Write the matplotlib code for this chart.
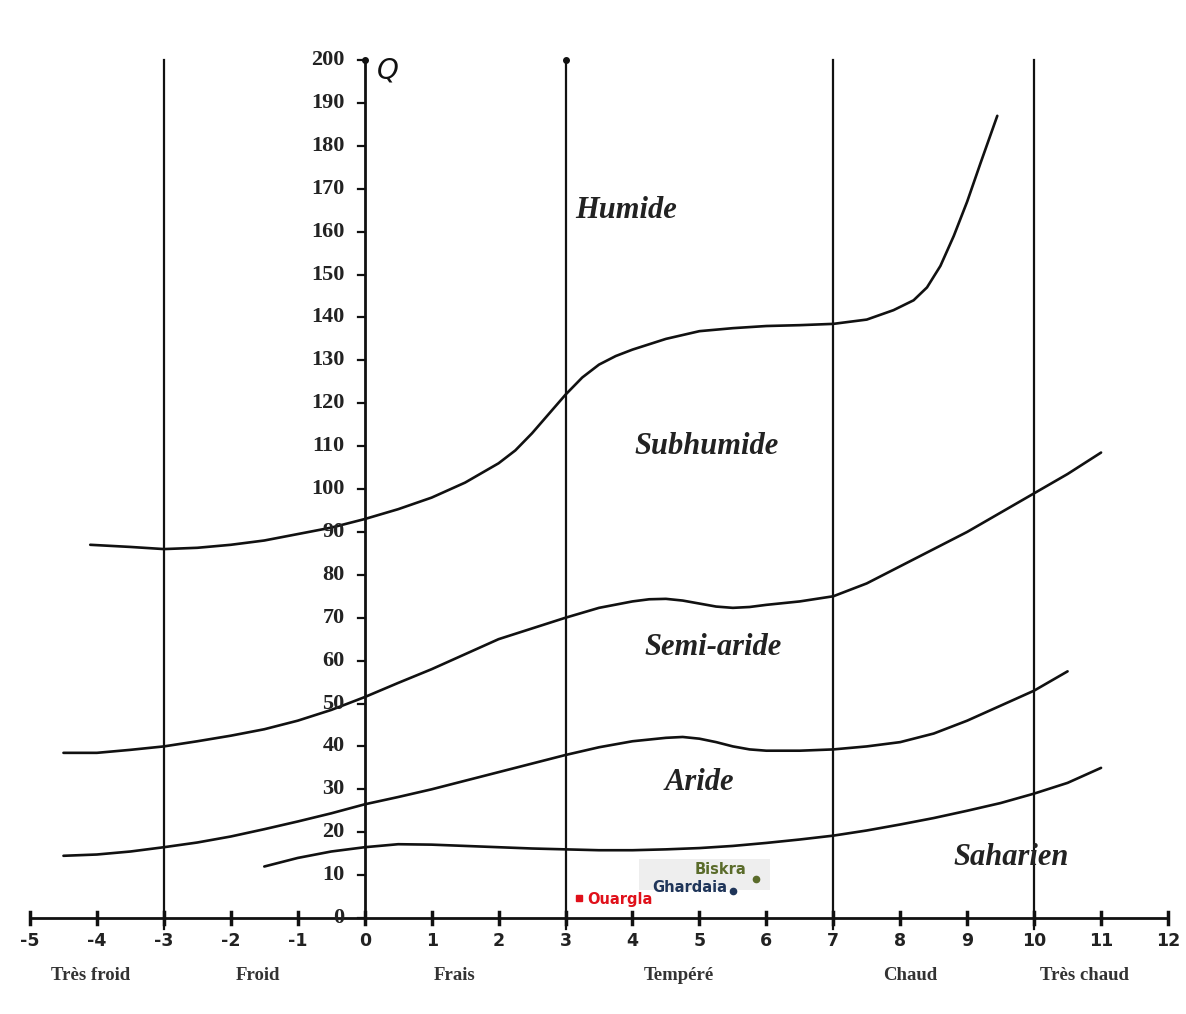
import matplotlib
matplotlib.use("Agg")
import matplotlib.pyplot as plt
from matplotlib.patches import Rectangle

# boundary curves of the Emberger climagram (m in degC, Q2)
hum_x = [-4.1, -3.5, -3, -2.5, -2, -1.5, -1, -0.5, 0, 0.5, 1, 1.5, 2, 2.25, 2.5, 2.75, 3, 3.25, 3.5, 3.75, 4, 4.5, 5, 5.5, 6, 6.5, 7, 7.5, 7.9, 8.2, 8.4, 8.6, 8.8, 9.0, 9.2, 9.45]
hum_q = [87, 86.5, 86, 86.3, 87, 88, 89.5, 91, 93, 95.3, 98, 101.5, 106, 109, 113, 117.5, 122, 126, 129, 131, 132.5, 135, 136.8, 137.5, 138, 138.2, 138.5, 139.5, 141.7, 144, 147, 152, 159, 167, 176, 187]

semi_x = [-4.5, -4, -3.5, -3, -2.5, -2, -1.5, -1, -0.5, 0, 0.5, 1, 1.5, 2, 2.5, 3, 3.5, 4, 4.25, 4.5, 4.75, 5, 5.25, 5.5, 5.75, 6, 6.5, 7, 7.5, 8, 8.5, 9, 9.5, 10, 10.5, 11]
semi_q = [38.5, 38.5, 39.2, 40, 41.2, 42.5, 44, 46, 48.5, 51.5, 54.8, 58, 61.5, 65, 67.5, 70, 72.3, 73.8, 74.3, 74.4, 74, 73.3, 72.6, 72.3, 72.5, 73, 73.8, 75, 78, 82, 86, 90, 94.5, 99, 103.5, 108.5]

arid_x = [-4.5, -4, -3.5, -3, -2.5, -2, -1.5, -1, -0.5, 0, 0.5, 1, 1.5, 2, 2.5, 3, 3.5, 4, 4.5, 4.75, 5, 5.25, 5.5, 5.75, 6, 6.5, 7, 7.5, 8, 8.5, 9, 9.5, 10, 10.5]
arid_q = [14.5, 14.8, 15.5, 16.5, 17.6, 19, 20.7, 22.5, 24.4, 26.5, 28.2, 30, 32, 34, 36, 38, 39.8, 41.2, 42, 42.2, 41.8, 41, 40, 39.3, 39, 39, 39.3, 40, 41, 43, 46, 49.5, 53, 57.5]

sah_x = [-1.5, -1, -0.5, 0, 0.5, 1, 1.5, 2, 2.5, 3, 3.5, 4, 4.5, 5, 5.5, 6, 6.5, 7, 7.5, 8, 8.5, 9, 9.5, 10, 10.5, 11]
sah_q = [12, 14, 15.5, 16.5, 17.2, 17.1, 16.8, 16.5, 16.2, 16, 15.8, 15.8, 16, 16.3, 16.8, 17.5, 18.3, 19.2, 20.4, 21.8, 23.3, 25, 26.8, 29, 31.5, 35]

# stations
stations = ["Ouargla", "Ghardaia", "Biskra"]
st_m = [3.2, 5.5, 5.85]
st_q = [4.7, 6.3, 9.2]
st_col = ["#e0101a", "#1f3559", "#5a6b2a"]
st_mark = ["s", "o", "o"]

zones = ["Humide", "Subhumide", "Semi-aride", "Aride", "Saharien"]
zone_x = [3.9, 5.1, 5.2, 5.0, 9.65]
zone_y = [165, 110, 63, 31.5, 14]

winters = ["Très froid", "Froid", "Frais", "Tempéré", "Chaud", "Très chaud"]
winter_x = [-4.1, -1.6, 1.35, 4.7, 8.15, 10.75]

xticks = list(range(-5, 13))
yticks = list(range(0, 201, 10))
vlines = [-3, 3, 7, 10]

fig = plt.figure(figsize=(11.86, 10.14), dpi=100)
ax = fig.add_axes([0, 0, 1, 1])
ax.set_xlim(-5.448, 12.269)
ax.set_ylim(-22.38, 214.0)
ax.axis("off")

k = "#111111"
# axes
ax.plot([-5, 12], [0, 0], color=k, lw=2)
ax.plot([0, 0], [0, 200], color=k, lw=2)
ax.plot([0], [200], marker="o", ms=4, color=k)
for xv in vlines:
    ax.plot([xv, xv], [-2.5, 200], color=k, lw=1.6)
ax.plot([3], [200], marker="o", ms=4, color=k)

for t in xticks:
    ax.plot([t, t], [-1.3, 1.3], color=k, lw=2.5)
    ax.text(t, -5.3, str(t), ha="center", va="center", fontsize=12.5,
            fontweight="bold", color="#222222", family="DejaVu Sans")
for t in yticks:
    ax.plot([-0.1, 0], [t, t], color=k, lw=1.6)
    ax.text(-0.3, t, str(t), ha="right", va="center", fontsize=16,
            fontweight="bold", color="#222222", family="Liberation Serif")
ax.text(0.18, 197.5, "Q", ha="left", va="center", fontsize=20,
        style="italic", color=k, family="DejaVu Sans")

# curves
for xs, qs in [(hum_x, hum_q), (semi_x, semi_q), (arid_x, arid_q), (sah_x, sah_q)]:
    ax.plot(xs, qs, color=k, lw=1.9, solid_capstyle="round", solid_joinstyle="round")

for name, zx, zy in zip(zones, zone_x, zone_y):
    ax.text(zx, zy, name, ha="center", va="center", fontsize=22,
            style="italic", fontweight="bold", color="#222222", family="Liberation Serif")

for name, wx in zip(winters, winter_x):
    ax.text(wx, -13.5, name, ha="center", va="center", fontsize=13.5,
            fontweight="bold", color="#333333", family="Liberation Serif")

# station points
ax.add_patch(Rectangle((4.1, 6.5), 1.95, 7.2, color="#eeeeee", lw=0, zorder=1))
for name, m, q, c, mk in zip(stations, st_m, st_q, st_col, st_mark):
    ax.plot([m], [q], marker=mk, ms=4.5, color=c, ls="none", zorder=3)
ax.text(st_m[0] + 0.13, st_q[0] - 0.3, stations[0], ha="left", va="center",
        fontsize=10.5, fontweight="bold", color=st_col[0], zorder=4)
ax.text(st_m[1] - 0.09, st_q[1] + 0.9, stations[1], ha="right", va="center",
        fontsize=10.5, fontweight="bold", color=st_col[1], zorder=4)
ax.text(st_m[2] - 0.15, st_q[2] + 2.2, stations[2], ha="right", va="center",
        fontsize=10.5, fontweight="bold", color=st_col[2], zorder=4)

fig.savefig("out.png", dpi=100)
